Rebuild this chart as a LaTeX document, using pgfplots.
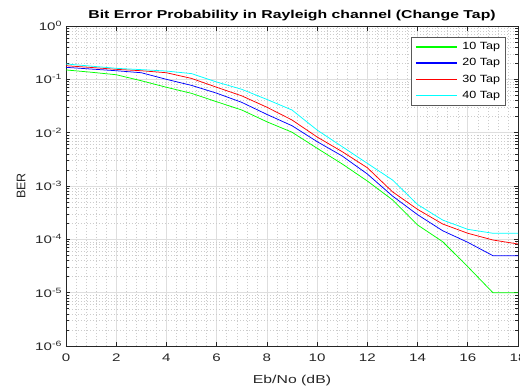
\documentclass[border=0pt]{standalone}
\usepackage{fontspec}
\setmainfont{Liberation Sans}
\newfontfamily\wfont[FakeStretch=1.38]{Liberation Sans}
\newfontfamily\lfont[FakeStretch=1.2]{Liberation Sans}
\usepackage{pgfplots}
\pgfplotsset{compat=1.18}
\definecolor{axgray}{gray}{0.15}
\definecolor{cgreen}{rgb}{0,1,0}
\definecolor{cblue}{rgb}{0,0,1}
\definecolor{cred}{rgb}{1,0,0}
\definecolor{ccyan}{rgb}{0,1,1}
\begin{document}
\begin{tikzpicture}
\begin{axis}[
  scale only axis, width=452bp, height=320bp,
  xmin=0, xmax=18, ymode=log, ymin=1e-6, ymax=1,
  xtick={0,2,...,18},
  xticklabels={0,2,4,6,8,10,12,14,16,18},
  ytick={1e-6,1e-5,1e-4,1e-3,1e-2,1e-1,1},
  yticklabels={10\textsuperscript{-6},10\textsuperscript{-5},10\textsuperscript{-4},10\textsuperscript{-3},10\textsuperscript{-2},10\textsuperscript{-1},10\textsuperscript{0}},
  minor x tick num=4,
  tick align=inside,
  major tick length=4.5bp, minor tick length=2.7bp,
  minor x tick style={draw=none},
  every tick/.style={axgray, line width=0.6bp},
  axis line style={axgray, line width=0.7bp},
  grid=both,
  major grid style={black!13, line width=0.6bp},
  minor grid style={black!20, line width=0.45bp, dash pattern=on 0.6bp off 2.4bp},
  tick label style={font=\wfont\fontsize{11}{13}\selectfont, text=axgray},
  xticklabel style={yshift=-4.5bp},
  yticklabel style={xshift=-0.5bp},
  xlabel style={font=\wfont\fontsize{11.5}{13}\selectfont, text=axgray,
    at={(axis description cs:0.5,0)}, anchor=center, yshift=-35bp},
  ylabel style={font=\fontsize{12.5}{13}\selectfont, text=axgray,
    at={(axis description cs:0,0.5)}, anchor=center, yshift=45bp},
  xlabel={Eb/No (dB)}, ylabel={BER},
  legend style={at={(rel axis cs:0.9735,0.9656)}, anchor=north east,
    draw=black!65, line width=0.7bp, fill=white,
    font=\lfont\fontsize{10.5}{12}\selectfont, inner xsep=3.5bp, inner ysep=2.5bp,
    row sep=2.3bp, cells={anchor=west},
    /tikz/every odd column/.append style={column sep=3bp},
    nodes={text height=7.8bp, text depth=2.2bp}},
  legend image code/.code={\draw[#1, draw=., line width=1.3bp] (0bp,0bp) -- (41bp,0bp);},
  every axis plot/.append style={line width=0.75bp},
]
\addplot[cgreen] coordinates {
(0,0.150)(1,0.136)(2,0.122)(3,0.094)(4,0.071)(5,0.0546)(6,0.038)(7,0.0266)(8,0.016)(9,0.0102)
(10,0.0051)(11,0.00259)(12,0.00124)(13,0.00055)(14,0.000186)(15,0.0000903)(16,0.0000307)(17,0.00001)(18,0.00001)};
\addplot[cblue] coordinates {
(0,0.168)(1,0.156)(2,0.145)(3,0.133)(4,0.100)(5,0.077)(6,0.055)(7,0.037)(8,0.022)(9,0.0135)
(10,0.0068)(11,0.00365)(12,0.00168)(13,0.00065)(14,0.00029)(15,0.000145)(16,0.000088)(17,0.0000494)(18,0.0000494)};
\addplot[cred] coordinates {
(0,0.180)(1,0.167)(2,0.154)(3,0.145)(4,0.133)(5,0.104)(6,0.071)(7,0.049)(8,0.030)(9,0.0173)
(10,0.0083)(11,0.0044)(12,0.0022)(13,0.00078)(14,0.000365)(15,0.000194)(16,0.00013)(17,0.0000972)(18,0.0000818)};
\addplot[ccyan] coordinates {
(0,0.194)(1,0.177)(2,0.161)(3,0.152)(4,0.143)(5,0.128)(6,0.089)(7,0.065)(8,0.042)(9,0.0266)
(10,0.0112)(11,0.00546)(12,0.00266)(13,0.0013)(14,0.00045)(15,0.00023)(16,0.000154)(17,0.00013)(18,0.00013)};
\legend{10 Tap, 20 Tap, 30 Tap, 40 Tap}
\coordinate (ll) at (rel axis cs:0,0);
\coordinate (ur) at (rel axis cs:1,1);
\coordinate (tc) at (rel axis cs:0.5,1);
\end{axis}
\node[anchor=base, inner sep=0pt, yshift=7bp, font=\wfont\fontsize{11.5}{13}\selectfont\bfseries]
  at (tc) {Bit Error Probability in Rayleigh channel (Change Tap)};
\pgfresetboundingbox
\path[use as bounding box] ([xshift=-66bp,yshift=-42bp]ll) rectangle ([xshift=2bp,yshift=26bp]ur);
\end{tikzpicture}
\end{document}
